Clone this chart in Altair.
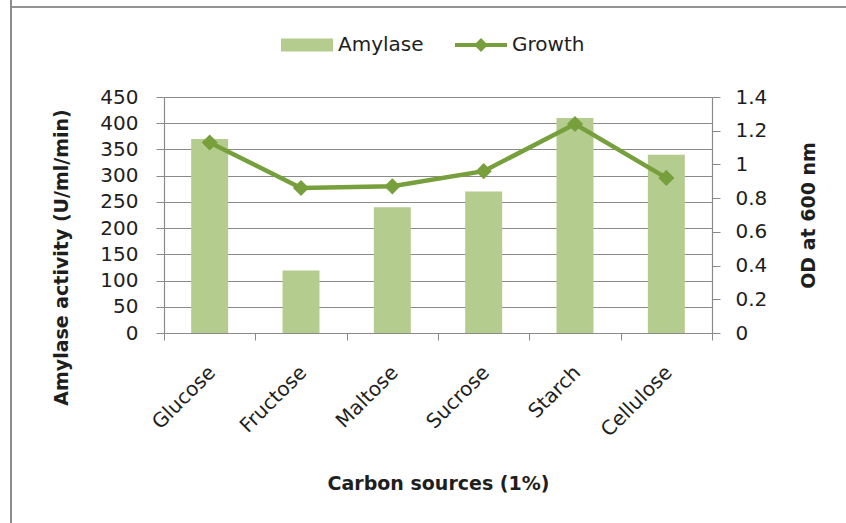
import altair as alt
import pandas as pd

# Carbon sources tested (1% each)
sources = ["Glucose", "Fructose", "Maltose", "Sucrose", "Starch", "Cellulose"]
# Amylase activity (U/ml/min)
amylase = [370, 119, 240, 270, 410, 340]
# Growth, OD at 600 nm
growth = [1.13, 0.86, 0.87, 0.96, 1.24, 0.92]
series_names = ["Amylase", "Growth"]

BAR_COLOR = "#b5cc8f"
LINE_COLOR = "#77a03d"
GRID = "#8a8a8a"
TEXT = "#1e1e1e"
FONT = "DejaVu Sans"

bars_df = pd.DataFrame({"source": sources, "value": amylase, "series": "Amylase"})
growth_df = pd.DataFrame({"source": sources, "value": growth, "series": "Growth"})
legend_df = pd.DataFrame({"series": series_names})

color_scale = alt.Scale(domain=series_names, range=[BAR_COLOR, LINE_COLOR])
# legend glyphs: a flat swatch for the bars, a line with a diamond for growth
shape_scale = alt.Scale(
    domain=series_names,
    range=[
        "M-1,-0.25H1V0.25H-1Z",
        "M-1,-0.08H-0.19L0,-0.27L0.19,-0.08H1V0.08H0.19L0,0.27L-0.19,0.08H-1Z",
    ],
)

legend_spec = alt.Legend(
    title=None,
    orient="none",
    direction="horizontal",
    legendX=117,
    legendY=-78,
    symbolSize=2704,
    symbolOpacity=1,
    symbolStrokeWidth=0,
    labelFontSize=20,
    labelFont=FONT,
    labelColor=TEXT,
    labelOffset=5,
    columnPadding=31,
    padding=0,
)

# category bands fill the axis so ticks fall on the category boundaries
x_enc = alt.X(
    "source:N",
    sort=sources,
    scale=alt.Scale(paddingInner=0, paddingOuter=0),
    axis=alt.Axis(
        title="Carbon sources (1%)",
        labelAngle=-45,
        tickBand="extent",
        labelFontSize=20,
        labelPadding=22,
        labelOffset=-5,
        tickSize=7,
        titleFontSize=19,
        titleFontWeight="bold",
        titlePadding=34,
    ),
)

bars = alt.Chart(bars_df).mark_bar(color=BAR_COLOR, width=alt.RelativeBandSize(0.405)).encode(
    x=x_enc,
    y=alt.Y(
        "value:Q",
        scale=alt.Scale(domain=[0, 450]),
        axis=alt.Axis(
            title="Amylase activity (U/ml/min)",
            orient="left",
            values=list(range(0, 451, 50)),
            grid=True,
            tickSize=8,
            labelPadding=18,
            labelFontSize=20,
            titleFontSize=19,
            titleFontWeight="bold",
            titlePadding=28,
            titleY=160,
        ),
    ),
    color=alt.Color("series:N", scale=color_scale),
)

growth_y = alt.Y(
    "value:Q",
    scale=alt.Scale(domain=[0, 1.4]),
    axis=alt.Axis(
        title="OD at 600 nm",
        orient="right",
        values=[0, 0.2, 0.4, 0.6, 0.8, 1.0, 1.2, 1.4],
        format="~g",
        grid=False,
        tickSize=8,
        labelPadding=15,
        labelFontSize=20,
        titleFontSize=19,
        titleFontWeight="bold",
        titleAngle=270,
        titleBaseline="top",
        titlePadding=33,
    ),
)

line = alt.Chart(growth_df).mark_line(strokeWidth=4.5).encode(
    x=alt.X("source:N", sort=sources),
    y=growth_y,
    color=alt.Color("series:N", scale=color_scale),
)

points = alt.Chart(growth_df).mark_point(shape="diamond", filled=True, size=260, opacity=1).encode(
    x=alt.X("source:N", sort=sources),
    y=alt.Y("value:Q", scale=alt.Scale(domain=[0, 1.4]), axis=None),
    color=alt.Color("series:N", scale=color_scale),
)

legend_layer = alt.Chart(legend_df).mark_point(filled=True, opacity=0, size=2704).encode(
    color=alt.Color("series:N", scale=color_scale, legend=legend_spec),
    shape=alt.Shape("series:N", scale=shape_scale, legend=legend_spec),
)

# outer frame lines of the figure panel
frame_left = alt.Chart(legend_df).mark_rule(color="#8c8c8c", strokeWidth=2).encode(
    x=alt.value(-153), y=alt.value(-97), y2=alt.value(426)
)
frame_top = alt.Chart(legend_df).mark_rule(color="#8c8c8c", strokeWidth=1.5).encode(
    x=alt.value(-153), x2=alt.value(682), y=alt.value(-90)
)

chart = (
    alt.layer(bars, line, points, legend_layer, frame_left, frame_top)
    .resolve_scale(y="independent")
    .properties(
        width=548,
        height=236,
        autosize=alt.AutoSizeParams(type="none"),
        padding={"left": 164, "top": 97, "right": 134, "bottom": 190},
        background="white",
    )
    .configure_view(stroke=None)
    .configure_axis(
        labelFont=FONT,
        titleFont=FONT,
        labelColor=TEXT,
        titleColor=TEXT,
        domainColor=GRID,
        tickColor=GRID,
        gridColor=GRID,
        gridOpacity=1,
        domainWidth=1.2,
        gridWidth=1,
    )
    .configure_axisX(grid=False)
)

chart.save("out.html", embed_options={"renderer": "svg", "actions": False})
